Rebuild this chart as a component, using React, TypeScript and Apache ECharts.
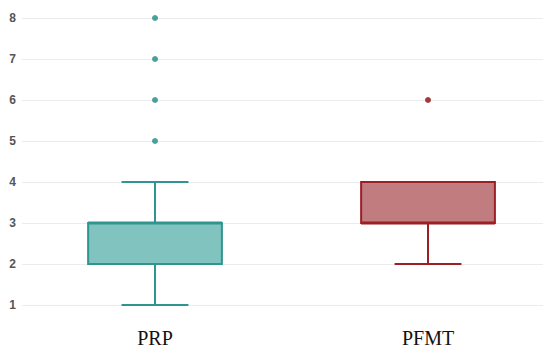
import React, { useEffect, useRef } from "react";
import * as echarts from "echarts";

const categories = ["PRP", "PFMT"];
// [min whisker, Q1, median, Q3, max whisker]
const prpBox = [1, 2, 3, 3, 4];
const pfmtBox = [2, 3, 3, 4, 4];
const prpOutliers = [5, 6, 7, 8];
const pfmtOutliers = [6];
const yTicks = [1, 2, 3, 4, 5, 6, 7, 8];

const fills = ["#80c3bf", "#c07c7f"];
const strokes = ["#2e9590", "#9c1f25"];
const dotColors = ["#1f8a85", "#8a0a0f"];

export default function App() {
  const ref = useRef<HTMLDivElement>(null);
  useEffect(() => {
    document.body.style.margin = "0";
    const chart = echarts.init(ref.current!, null, { renderer: "svg" });
    const boxes = [prpBox, pfmtBox];
    const boxData = boxes.map((b, i) => [i, ...b]);
    const outlierData: any[] = [];
    prpOutliers.forEach((v) => outlierData.push({ value: [0, v], itemStyle: { color: dotColors[0] } }));
    pfmtOutliers.forEach((v) => outlierData.push({ value: [1, v], itemStyle: { color: dotColors[1] } }));

    const option: any = {
      animation: false,
      grid: { left: 22, right: 7, top: 18, bottom: 50 },
      xAxis: {
        type: "value",
        min: -0.4872,
        max: 1.4212,
        axisLine: { show: false },
        axisTick: { show: false },
        splitLine: { show: false },
        axisLabel: {
          customValues: [0, 1],
          formatter: (v: number) => categories[Math.round(v)] ?? "",
          margin: 23,
          fontFamily: "Liberation Serif",
          fontSize: 20,
          color: "#111",
        },
      },
      yAxis: {
        type: "value",
        min: yTicks[0],
        max: yTicks[yTicks.length - 1],
        interval: 1,
        axisLine: { show: false },
        axisTick: { show: false },
        axisLabel: {
          margin: 6,
          fontFamily: "Liberation Sans",
          fontSize: 12,
          fontWeight: "bold",
          color: "#555",
        },
        splitLine: { lineStyle: { color: "#ececec", width: 1 } },
      },
      series: [
        {
          type: "custom",
          data: boxData,
          renderItem: (params: any, api: any) => {
            const idx = api.value(0);
            const mn = api.coord([idx, api.value(1)]);
            const q1 = api.coord([idx, api.value(2)]);
            const med = api.coord([idx, api.value(3)]);
            const q3 = api.coord([idx, api.value(4)]);
            const mx = api.coord([idx, api.value(5)]);
            const unit = api.size([1, 0])[0];
            const bw = unit * 0.49;
            const cw = bw * 0.5;
            const x = mn[0];
            const stroke = strokes[idx];
            const ls = { stroke, lineWidth: 2 };
            return {
              type: "group",
              children: [
                { type: "line", shape: { x1: x, y1: q1[1], x2: x, y2: mn[1] }, style: ls },
                { type: "line", shape: { x1: x, y1: q3[1], x2: x, y2: mx[1] }, style: ls },
                { type: "line", shape: { x1: x - cw / 2, y1: mn[1], x2: x + cw / 2, y2: mn[1] }, style: ls },
                { type: "line", shape: { x1: x - cw / 2, y1: mx[1], x2: x + cw / 2, y2: mx[1] }, style: ls },
                {
                  type: "rect",
                  shape: { x: x - bw / 2, y: q3[1], width: bw, height: q1[1] - q3[1] },
                  style: { fill: fills[idx], stroke, lineWidth: 2 },
                },
                { type: "line", shape: { x1: x - bw / 2, y1: med[1], x2: x + bw / 2, y2: med[1] }, style: { stroke, lineWidth: 3 } },
              ],
            };
          },
        },
        {
          type: "scatter",
          symbolSize: 6,
          data: outlierData,
        },
      ],
    };
    chart.setOption(option);
    return () => chart.dispose();
  }, []);
  return <div ref={ref} style={{ width: 550, height: 355 }} />;
}
